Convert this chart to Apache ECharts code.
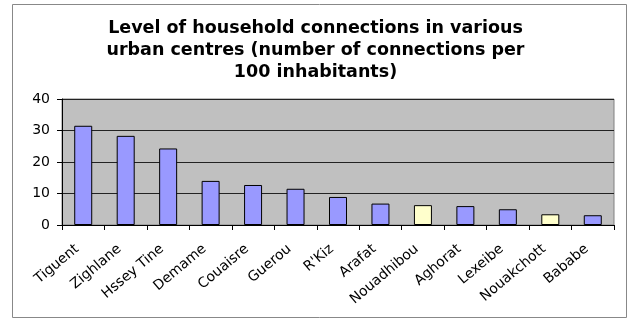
<!DOCTYPE html>
<html><head><meta charset="utf-8">
<script src="https://cdn.jsdelivr.net/npm/echarts@6/dist/echarts.min.js"></script>
<style>html,body{margin:0;padding:0;background:#fff}#c{width:631px;height:320px}</style>
</head><body><div id="c"></div>
<script>
var categories = ["Tiguent","Zighlane","Hssey Tine","Demame","Couaisre","Guerou","R'Kiz","Arafat","Nouadhibou","Aghorat","Lexeibe","Nouakchott","Bababe"];
var values = [31.5, 28.3, 24.3, 14.0, 12.7, 11.5, 8.9, 6.8, 6.3, 6.0, 5.0, 3.4, 3.1];
var highlighted = ["Nouadhibou","Nouakchott"];
var yTicks = [0, 10, 20, 30, 40];
var titleText = "Level of household connections in various\nurban centres (number of connections per\n100 inhabitants)";

var chart = echarts.init(document.getElementById('c'), null, {renderer:'canvas'});
var data = categories.map(function(c,i){
  return {value: values[i], itemStyle: {color: highlighted.indexOf(c) >= 0 ? '#FFFFCC' : '#9999FF'}};
});
chart.setOption({
  animation:false,
  backgroundColor:'#fff',
  graphic:[{type:'rect', shape:{x:12.5,y:4.5,width:614,height:313}, style:{fill:'none',stroke:'#888',lineWidth:1}, silent:true}],
  title:{text:titleText, left:'center', top:12, padding:[5,0,5,10],
    textStyle:{fontFamily:'DejaVu Sans', fontWeight:'bold', fontSize:17.5, lineHeight:22, color:'#000'}},
  grid:{left:62, right:17, top:99, bottom:95, show:true, backgroundColor:'#C0C0C0', borderColor:'#808080', borderWidth:1},
  xAxis:{type:'category', data:categories,
    axisLine:{lineStyle:{color:'#000'}},
    axisTick:{show:true, alignWithLabel:false, length:5, lineStyle:{color:'#000'}},
    axisLabel:{rotate:40, fontFamily:'DejaVu Sans', fontSize:14, color:'#000', interval:0, margin:17, padding:[0,8,0,0]}},
  yAxis:{type:'value', min:yTicks[0], max:yTicks[yTicks.length-1], interval:10,
    axisLine:{show:true, lineStyle:{color:'#000'}},
    axisTick:{show:true, length:5, lineStyle:{color:'#000'}},
    axisLabel:{fontFamily:'DejaVu Sans', fontSize:14, color:'#000', margin:12}},
  series:[{type:'bar', data:data, barWidth:18,
    itemStyle:{borderColor:'#000', borderWidth:1}}]
});
chart.setOption({yAxis:{splitLine:{show:true, lineStyle:{color:'#222', width:1}}}});
</script></body></html>
